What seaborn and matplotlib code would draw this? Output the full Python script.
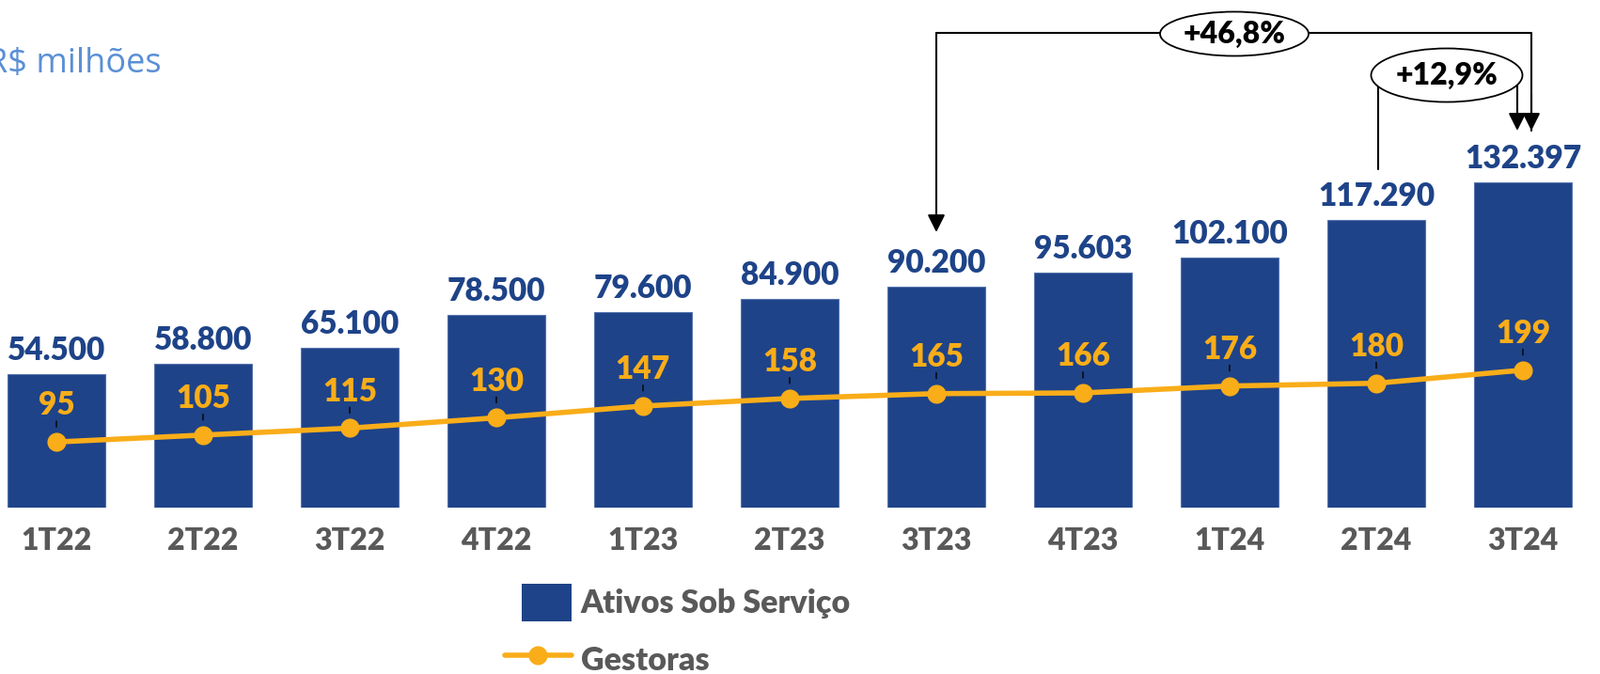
import numpy as np
import matplotlib
matplotlib.use('Agg')
import matplotlib.pyplot as plt
from matplotlib.patches import Ellipse, Patch, Rectangle
from matplotlib.lines import Line2D
from matplotlib.legend_handler import HandlerPatch
import seaborn as sns

# DATA
categories = ['1T22', '2T22', '3T22', '4T22', '1T23', '2T23', '3T23', '4T23', '1T24', '2T24', '3T24']
ativos = [54500, 58800, 65100, 78500, 79600, 84900, 90200, 95603, 102100, 117290, 132397]
gestoras = [95, 105, 115, 130, 147, 158, 165, 166, 176, 180, 199]
growth_labels = ['+46,8%', '+12,9%']

BLUE = '#1E4388'
GOLD = '#F9AD19'
GRAY = '#595959'
LIGHT_BLUE = '#5A8FD5'
WEIGHT = 'heavy'

sns.set_style('white')
plt.rcParams['font.family'] = ['Lato', 'DejaVu Sans']

W, H = 1702, 717
fig = plt.figure(figsize=(W / 100, H / 100), dpi=100)
base = 540  # pixel row of the bar baseline
ax = fig.add_axes([0, (H - base) / H, 1, base / H])

# bars
sns.barplot(x=categories, y=ativos, color=BLUE, saturation=1, width=0.667,
            edgecolor='#5573AD', linewidth=0.8, ax=ax)
ax.set_xlim(-60 / 156, (W - 60) / 156)
ax.set_ylim(0, base / 0.00261)
ax.set_ylabel('')
ax.set_yticks([])
ax.tick_params(axis='x', length=0, pad=15)
ax.set_xticks(range(len(categories)))
ax.set_xticklabels(categories, fontsize=23, fontweight=WEIGHT, color=GRAY)
sns.despine(ax=ax, left=True, bottom=True)

for i, v in enumerate(ativos):
    ax.annotate(f"{v:,}".replace(',', '.'), xy=(i, v), xytext=(0, 18),
                textcoords='offset points', ha='center', va='center',
                fontsize=24, fontweight=WEIGHT, color=BLUE)

# line on secondary axis
ax2 = ax.twinx()
sns.lineplot(x=np.arange(len(gestoras)), y=gestoras, color=GOLD, marker='o',
             markersize=14.5, markeredgewidth=0, linewidth=4, ax=ax2)
ax2.set_ylim(0, base / 0.735)
ax2.set_ylabel('')
ax2.set_yticks([])
sns.despine(ax=ax2, left=True, bottom=True, right=True)

for i, v in enumerate(gestoras):
    ax2.annotate(str(v), xy=(i, v), xytext=(0, 28), textcoords='offset points',
                 ha='center', va='center', fontsize=24, fontweight=WEIGHT, color=GOLD)
    ax2.annotate('', xy=(i, v), xytext=(0, 16), textcoords='offset points',
                 arrowprops=dict(arrowstyle='-', color='black', lw=1,
                                 shrinkA=0, shrinkB=11.5))

# growth brackets (y in bar-value units)
def py(px):
    return (base - px) / 0.00261

arrow_kw = dict(arrowstyle='-|>', color='black', lw=1.5, mutation_scale=28,
                shrinkA=0, shrinkB=0)

# +46,8% : 3T23 -> 3T24
x_l, x_r = 6, 10 + 9 / 156
x_e1 = 8 + 5 / 156
ax.plot([x_r, x_r, x_l], [py(139), py(35), py(35)], color='black', lw=1.5,
        clip_on=False, zorder=3)
ax.annotate('', xy=(x_l, py(247)), xytext=(x_l, py(35)), arrowprops=arrow_kw, zorder=3)
ax.annotate('', xy=(x_r, py(139)), xytext=(x_r, py(100)), arrowprops=arrow_kw, zorder=3)
ax.add_patch(Ellipse((x_e1, py(36)), 158 / 156, 47 / 0.00261,
                     facecolor='white', edgecolor='black', lw=1.3, zorder=4, clip_on=False))
ax.text(x_e1, py(36), growth_labels[0], ha='center', va='center',
        fontsize=23, fontweight=WEIGHT, color='black', zorder=5)

# +12,9% : 2T24 -> 3T24
x_l2, x_r2 = 9 + 2 / 156, 10 - 6 / 156
x_e2 = 9 + 75 / 156
ax.plot([x_l2, x_l2, x_r2], [py(180), py(80), py(80)], color='black', lw=1.5,
        clip_on=False, zorder=3)
ax.annotate('', xy=(x_r2, py(139)), xytext=(x_r2, py(80)), arrowprops=arrow_kw, zorder=3)
ax.add_patch(Ellipse((x_e2, py(80)), 161 / 156, 57 / 0.00261,
                     facecolor='white', edgecolor='black', lw=1.3, zorder=4, clip_on=False))
ax.text(x_e2, py(80), growth_labels[1], ha='center', va='center',
        fontsize=23, fontweight=WEIGHT, color='black', zorder=5)

# unit label
fig.text(-14 / W, 1 - 77 / H, 'R$ milhões', ha='left', va='baseline',
         fontsize=26, color=LIGHT_BLUE, family=['Open Sans', 'DejaVu Sans'])

# legend
def small_patch(legend, orig_handle, xdescent, ydescent, width, height, fontsize):
    w = 38.2
    return Rectangle((-xdescent + width - w, -ydescent), w, height)

handles = [Patch(facecolor=BLUE, edgecolor='none'),
           Line2D([0], [0], color=GOLD, lw=4, marker='o', markersize=14.5, markeredgewidth=0)]
leg = ax2.legend(handles, ['Ativos Sob Serviço', 'Gestoras'], loc='upper left',
                 bbox_to_anchor=(537 / W, 1 - 621 / H), bbox_transform=fig.transFigure,
                 frameon=False, fontsize=24.5, borderpad=0, borderaxespad=0,
                 handlelength=2.08, handleheight=1.43, handletextpad=0.29,
                 labelspacing=0.6,
                 handler_map={Patch: HandlerPatch(patch_func=small_patch)})
for t in leg.get_texts():
    t.set_color(GRAY)
    t.set_fontweight(WEIGHT)

fig.savefig('out.png', dpi=100)
